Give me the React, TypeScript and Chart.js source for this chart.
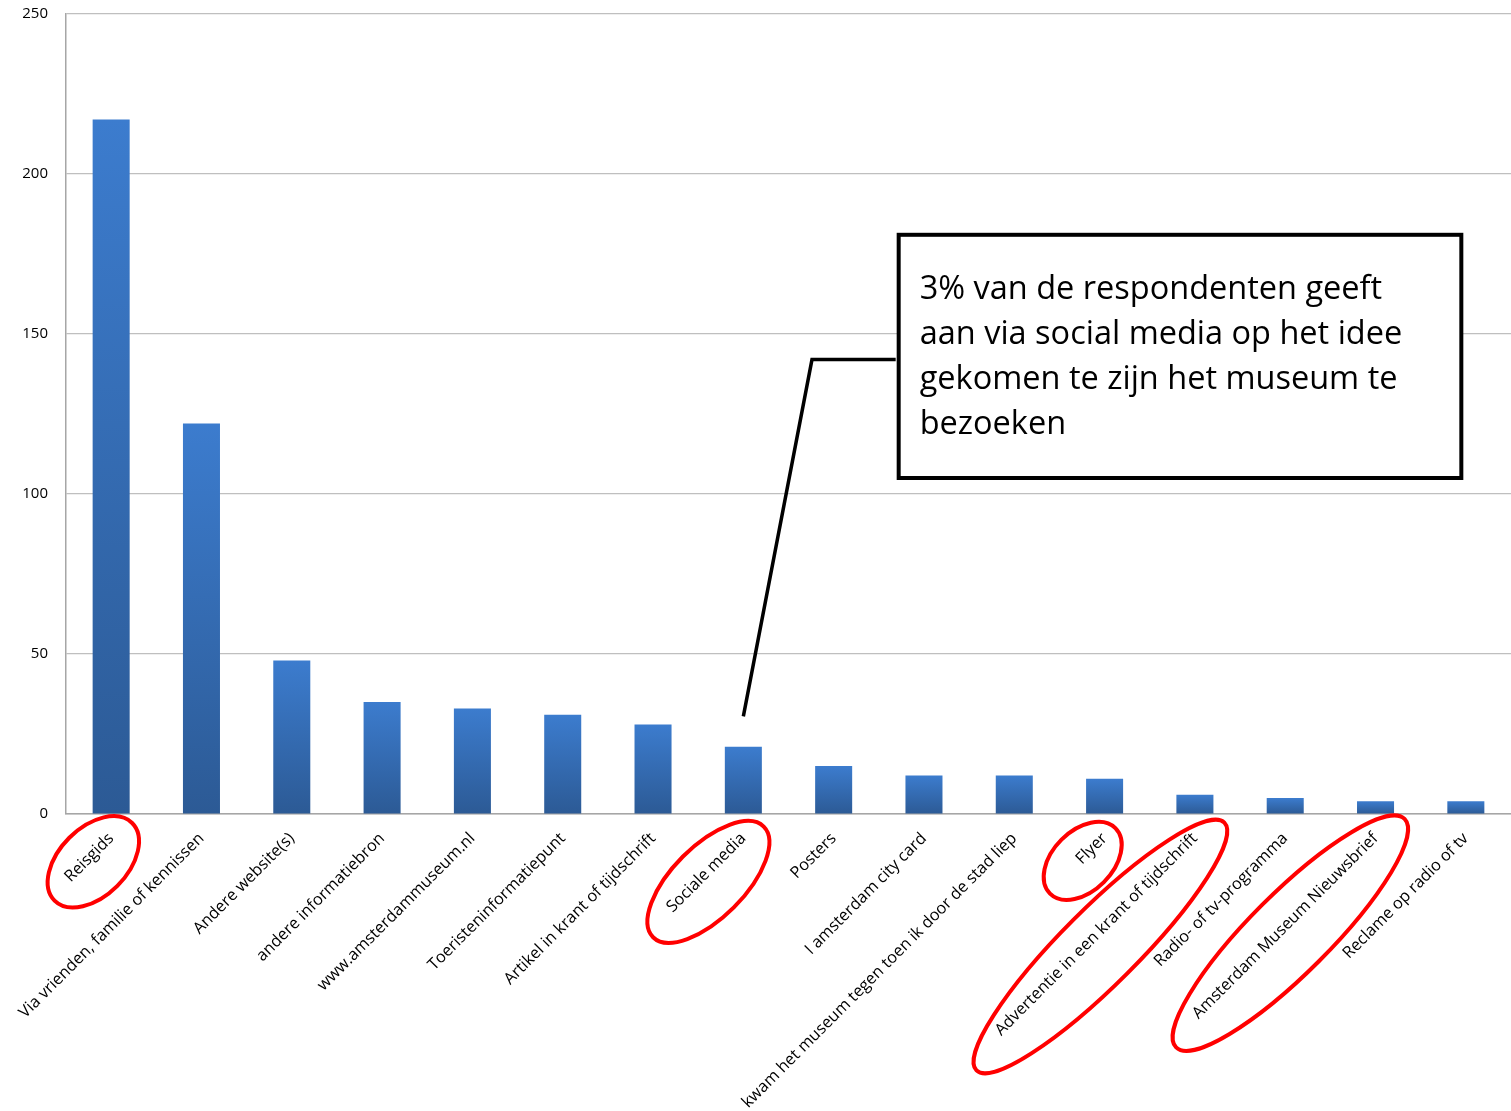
import React, { useEffect, useRef } from "react";
import { Chart, registerables } from "chart.js";

Chart.register(...registerables);

const categories: string[] = [
  "Reisgids",
  "Via vrienden, familie of kennissen",
  "Andere website(s)",
  "andere informatiebron",
  "www.amsterdammuseum.nl",
  "Toeristeninformatiepunt",
  "Artikel in krant of tijdschrift",
  "Sociale media",
  "Posters",
  "I amsterdam city card",
  "kwam het museum tegen toen ik door de stad liep",
  "Flyer",
  "Advertentie in een krant of tijdschrift",
  "Radio- of tv-programma",
  "Amsterdam Museum Nieuwsbrief",
  "Reclame op radio of tv",
];

const values: number[] = [217, 122, 48, 35, 33, 31, 28, 21, 15, 12, 12, 11, 6, 5, 4, 4];

const yMax = 250;
const yStep = 50;

// labels circled in red: [category index, extra half-length, half-width, dx, dy]
const highlighted: [number, number, number, number, number][] = [
  [0, 24, 34, 0, 0],
  [7, 26, 36, -2, 5],
  [11, 28, 30, -13, 8],
  [12, 36, 38, 0, 8],
  [14, 34, 40, 1, 3],
];

const calloutLines: string[] = [
  "3% van de respondenten geeft",
  "aan via social media op het idee",
  "gekomen te zijn het museum te",
  "bezoeken",
];
const calloutTarget = 7; // Sociale media

const FONT_FAMILY = "'Open Sans'";
const TICK_SIZE = 16.3;
const TICK_PAD = 15;

export default function App() {
  const ref = useRef<HTMLCanvasElement | null>(null);

  useEffect(() => {
    const canvas = ref.current;
    if (!canvas) return;

    const overlay = {
      id: "overlay",
      afterDraw(chart: any) {
        const ctx = chart.ctx;
        const xs = chart.scales.x;
        const ys = chart.scales.y;
        const ang = -Math.PI / 4;

        // red ellipses around labels
        ctx.save();
        ctx.font = `${TICK_SIZE}px ${FONT_FAMILY}`;
        ctx.strokeStyle = "#ff0000";
        ctx.lineWidth = 4;
        for (const [idx, padA, b, dx, dy] of highlighted) {
          const tx = xs.getPixelForTick(idx);
          const ty = xs.top + TICK_PAD;
          const w = ctx.measureText(categories[idx]).width;
          const half = w / 2;
          const cx = tx - Math.cos(Math.PI / 4) * half + 4 + dx;
          const cy = ty + Math.sin(Math.PI / 4) * half + 11 + dy;
          ctx.beginPath();
          ctx.ellipse(cx, cy, half + padA, b, ang, 0, Math.PI * 2);
          ctx.stroke();
        }
        ctx.restore();

        // callout box
        const bx0 = xs.getPixelForValue(8.72);
        const bx1 = xs.getPixelForValue(14.95);
        const by0 = ys.getPixelForValue(181);
        const by1 = ys.getPixelForValue(105);
        const elbowX = xs.getPixelForValue(7.76);
        const elbowY = ys.getPixelForValue(142);
        const endX = xs.getPixelForTick(calloutTarget);
        const endY = ys.getPixelForValue(values[calloutTarget] + 9.5);

        ctx.save();
        ctx.strokeStyle = "#000";
        ctx.lineWidth = 3.5;
        ctx.beginPath();
        ctx.moveTo(bx0 - 3, elbowY);
        ctx.lineTo(elbowX, elbowY);
        ctx.lineTo(endX, endY);
        ctx.stroke();

        ctx.fillStyle = "#fff";
        ctx.fillRect(bx0, by0, bx1 - bx0, by1 - by0);
        ctx.lineWidth = 4;
        ctx.strokeRect(bx0, by0, bx1 - bx0, by1 - by0);

        ctx.fillStyle = "#000";
        ctx.font = `32.5px ${FONT_FAMILY}`;
        ctx.textAlign = "left";
        ctx.textBaseline = "middle";
        calloutLines.forEach((line, i) => {
          ctx.fillText(line, bx0 + 21, by0 + 55 + i * 45);
        });
        ctx.restore();
      },
    };

    const chart = new Chart(canvas, {
      type: "bar",
      data: {
        labels: categories,
        datasets: [
          {
            data: values,
            categoryPercentage: 1,
            barPercentage: 0.41,
            backgroundColor: (c: any) => {
              const ch = c.chart;
              const ys = ch.scales && ch.scales.y;
              if (!ys || c.raw === undefined) return "#3a78c8";
              const top = ys.getPixelForValue(c.raw);
              const base = ys.getPixelForValue(0);
              if (!isFinite(top) || !isFinite(base) || top === base) return "#3a78c8";
              const g = ch.ctx.createLinearGradient(0, top, 0, base);
              g.addColorStop(0, "#3c7cce");
              g.addColorStop(1, "#2c5a95");
              return g;
            },
            borderWidth: 0,
          },
        ],
      },
      options: {
        responsive: false,
        animation: false,
        layout: { padding: { top: 14, right: 0, left: 0, bottom: 0 } },
        plugins: {
          legend: { display: false },
          tooltip: { enabled: false },
        },
        scales: {
          x: {
            grid: { display: false, drawTicks: false },
            border: { display: true, color: "#a6a6a6", width: 1.5 },
            ticks: {
              autoSkip: false,
              minRotation: 45,
              maxRotation: 45,
              padding: TICK_PAD,
              color: "#000",
              font: { family: FONT_FAMILY, size: TICK_SIZE },
            },
            afterFit: (s: any) => {
              s.height = 297;
              s.paddingLeft = 0;
              s.paddingRight = 0;
              s.paddingTop = 0;
              s.paddingBottom = 0;
            },
          },
          y: {
            min: 0,
            max: yMax,
            ticks: {
              stepSize: yStep,
              padding: 18,
              color: "#000",
              font: { family: FONT_FAMILY, size: 15 },
            },
            grid: { color: "#bfbfbf", lineWidth: 1.2, drawTicks: false },
            border: { display: true, color: "#a6a6a6", width: 1.5 },
            afterFit: (s: any) => {
              s.width = 66;
              s.paddingTop = 0;
              s.paddingBottom = 0;
            },
          },
        },
      },
      plugins: [overlay],
    } as any);

    return () => chart.destroy();
  }, []);

  return (
    <div style={{ position: "absolute", left: 0, top: 0, width: 1511, height: 1111, background: "#fff" }}>
      <canvas ref={ref} width={1511} height={1111} style={{ display: "block" }} />
    </div>
  );
}
